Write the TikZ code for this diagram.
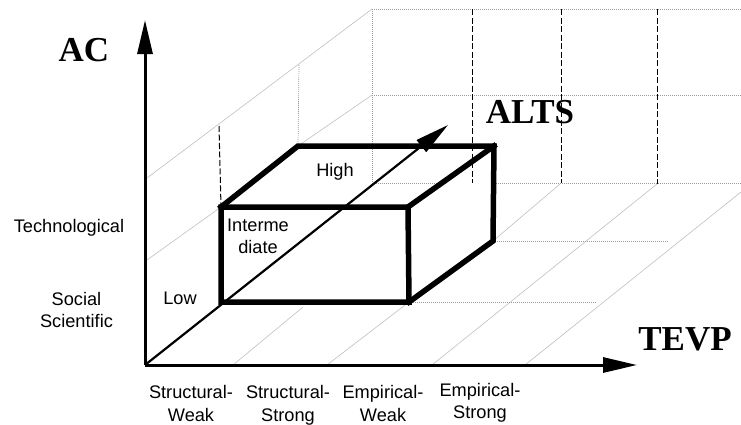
\documentclass[tikz,border=0pt]{standalone}
\usepackage{fontspec}
\setmainfont{Liberation Sans}
\newfontfamily\titlefont{Liberation Serif}
\usetikzlibrary{arrows.meta}
\begin{document}
\begin{tikzpicture}[x=1pt,y=-1pt,
  lbl/.style={font=\fontsize{18.2}{22}\selectfont, inner sep=0pt, anchor=north, align=center},
  ttl/.style={font=\titlefont\bfseries\fontsize{35}{40}\selectfont, inner sep=0pt, anchor=north},
  axisline/.style={line width=3pt, -{Triangle[length=34pt,width=15pt]}},
  altsline/.style={line width=2.2pt, -{Triangle[length=34pt,width=15pt]}},
  boxedge/.style={line width=5.5pt, line cap=rect, line join=miter},
  gline/.style={gray!50, line width=0.6pt},
  gdot/.style={gray!80, line width=0.7pt, dash pattern=on 1pt off 1pt},
  gdash/.style={black, line width=1pt, dash pattern=on 6pt off 2.5pt}]
\useasboundingbox (0,0) rectangle (741,424);
% key points
\coordinate (O) at (145,365);
\coordinate (ACtip) at (145,20);
\coordinate (TEtip) at (637,365);
\coordinate (ALtip) at (448,125);
% box corners
\coordinate (ftl) at (221,207);
\coordinate (ftr) at (408,207);
\coordinate (fbr) at (409,302);
\coordinate (fbl) at (221,302);
\coordinate (btl) at (298,146);
\coordinate (btr) at (494,146);
\coordinate (bbr) at (493,241);
% left wall
\coordinate (lwa) at (147,178);
\coordinate (lwb) at (372,9);
\coordinate (lwc) at (147,260);
\coordinate (lwd) at (372,95);
\coordinate (lwe) at (219,126);
\coordinate (lwf) at (299,65);
% back wall
\coordinate (bwa) at (741,9);
\coordinate (bwb) at (741,95);
\coordinate (bwc) at (372,183);
\coordinate (bwd) at (441,183);
\coordinate (bwe) at (494,183);
\coordinate (bwf) at (741,183);
\coordinate (v1a) at (472,9);   \coordinate (v1b) at (472,183);
\coordinate (v2a) at (561,9);   \coordinate (v2b) at (561,183);
\coordinate (v3a) at (657,9);   \coordinate (v3b) at (657,184);
% floor
\coordinate (f1a) at (233,365); \coordinate (f1b) at (303,307);
\coordinate (f2a) at (327,365); \coordinate (f2b) at (560,184);
\coordinate (f3a) at (432,365); \coordinate (f3b) at (657,184);
\coordinate (f4a) at (525,365); \coordinate (f4b) at (741,192);
\coordinate (h1) at (597,302);
\coordinate (h2) at (668,241);

% left wall lines
\draw[gline] (lwa) -- (lwb);
\draw[gline] (lwc) -- (ftl);
\draw[gline] (btl) -- (lwd);
\draw[gdash] (lwe) -- (ftl);
\draw[gdot] (lwf) -- (btl);
% back wall
\draw[gdot] (lwb) -- (bwa);
\draw[gdot] (lwd) -- (bwb);
\draw[gdot] (bwc) -- (bwd);
\draw[gdot] (bwe) -- (bwf);
\draw[gdot] (lwb) -- (bwc);
\draw[gdash] (v1a) -- (v1b);
\draw[gdash] (v2a) -- (v2b);
\draw[gdash] (v3a) -- (v3b);
% floor
\draw[gline] (f1a) -- (f1b);
\draw[gline] (f2a) -- (fbr);
\draw[gline] (bbr) -- (f2b);
\draw[gline] (f3a) -- (f3b);
\draw[gline] (f4a) -- (f4b);
\draw[gdot] (fbr) -- (h1);
\draw[gdot] (bbr) -- (h2);

% box
\draw[boxedge] (fbl) -- (ftl) -- (ftr) -- (fbr) -- cycle;
\draw[boxedge] (ftl) -- (btl) -- (btr) -- (bbr) -- (fbr);
\draw[boxedge] (ftr) -- (btr);

% axes
\draw[axisline] (O) -- (ACtip);
\draw[axisline] (O) -- (TEtip);
\draw[altsline] (O) -- (ALtip);

% titles
\node[ttl] (ac) at (84,38) {AC};
\node[ttl] (alts) at (530,100) {ALTS};
\node[ttl] (tevp) at (685,327) {TEVP};

% labels
\node[lbl] (tech) at (69,219) {Technological};
\node[lbl] (soc) at (76.5,292) {Social\\Scientific};
\node[lbl] (low) at (180,292) {Low};
\node[lbl] (inter) at (258,219) {Interme\\diate};
\node[lbl] (high) at (335,163) {High};
\node[lbl, font=\fontsize{18.2}{23}\selectfont] (sw) at (191,385) {Structural-\\Weak};
\node[lbl, font=\fontsize{18.2}{23}\selectfont] (ss) at (288,385) {Structural-\\Strong};
\node[lbl, font=\fontsize{18.2}{23}\selectfont] (ew) at (383,385) {Empirical-\\Weak};
\node[lbl] (es) at (480,383) {Empirical-\\Strong};
\end{tikzpicture}
\end{document}
